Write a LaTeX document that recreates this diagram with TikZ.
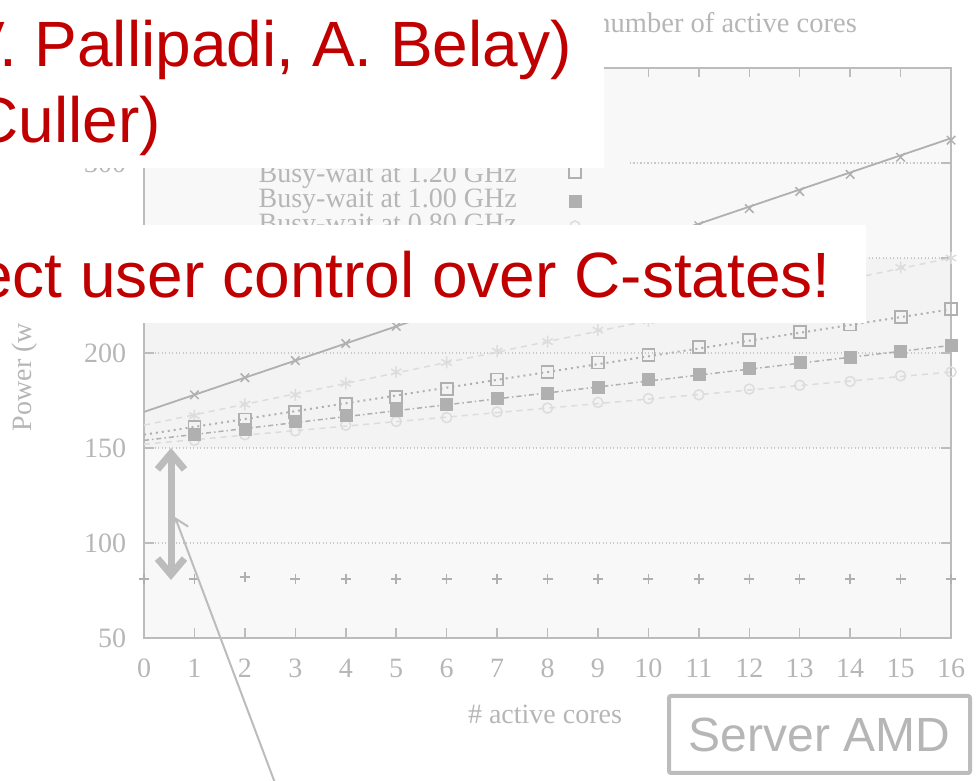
\documentclass[tikz,border=0pt]{standalone}
\usepackage{fontspec}
\setmainfont{Liberation Serif}
\newfontfamily\slidefont{Liberation Sans}
\usetikzlibrary{arrows.meta,plotmarks}

\definecolor{slidered}{RGB}{192,0,0}
\definecolor{axisgray}{RGB}{188,188,188}
\definecolor{labelgray}{RGB}{182,182,182}
\definecolor{seriesgray}{RGB}{176,176,176}
\definecolor{palegray}{RGB}{220,220,220}
\definecolor{gridgray}{RGB}{200,200,200}
\definecolor{bandgray}{RGB}{243,243,243}
\definecolor{plotbg}{RGB}{248,248,248}

\tikzset{
  lbl/.style={font=\fontsize{28}{30}\selectfont, text=labelgray, inner sep=0pt},
  redtext/.style={font=\slidefont\fontsize{64}{76}\selectfont, text=slidered, inner sep=0pt},
  gridline/.style={gridgray, line width=1.3pt, dash pattern=on 1.3pt off 2.2pt},
  frameline/.style={axisgray, line width=2.5pt},
  tickline/.style={axisgray, line width=1.5pt},
  serverbox/.style={draw=axisgray, line width=4pt, rounded corners=2pt, minimum width=301pt,
    minimum height=77pt, text=labelgray, font=\slidefont\fontsize{48}{50}\selectfont},
  gaparrow/.style={axisgray, line width=7pt, {Straight Barb[length=16pt,width=27pt]}-{Straight Barb[length=16pt,width=27pt]}},
  calloutarrow/.style={axisgray, line width=2pt, -{Straight Barb[length=12pt,width=18pt]}},
}

\begin{document}
\begin{tikzpicture}[x=1pt,y=1pt]
\useasboundingbox (0,0) rectangle (977,781);

% the chart, in cores (x) and watts (y)
\begin{scope}[x=50.44pt, y=1.9pt, shift={(144pt,48pt)}]
\fill[plotbg] (0,50) rectangle (16,350);
\fill[bandgray] (0,150) rectangle (16,250);
\draw[gridline] (0,100) -- (16,100);
\draw[gridline] (0,150) -- (16,150);
\draw[gridline] (0,200) -- (16,200);
\draw[gridline] (0,250) -- (16,250);
\draw[gridline] (9.63,300) -- (16,300);

% ticks
\draw[tickline] (1,50) -- ++(0,5) (2,50) -- ++(0,5) (3,50) -- ++(0,5) (4,50) -- ++(0,5)
  (5,50) -- ++(0,5) (6,50) -- ++(0,5) (7,50) -- ++(0,5) (8,50) -- ++(0,5)
  (9,50) -- ++(0,5) (10,50) -- ++(0,5) (11,50) -- ++(0,5) (12,50) -- ++(0,5)
  (13,50) -- ++(0,5) (14,50) -- ++(0,5) (15,50) -- ++(0,5);
\draw[tickline] (1,350) -- ++(0,-5) (2,350) -- ++(0,-5) (3,350) -- ++(0,-5) (4,350) -- ++(0,-5)
  (5,350) -- ++(0,-5) (6,350) -- ++(0,-5) (7,350) -- ++(0,-5) (8,350) -- ++(0,-5)
  (9,350) -- ++(0,-5) (10,350) -- ++(0,-5) (11,350) -- ++(0,-5) (12,350) -- ++(0,-5)
  (13,350) -- ++(0,-5) (14,350) -- ++(0,-5) (15,350) -- ++(0,-5);
\draw[tickline] (0,100) -- ++(0.2,0) (0,150) -- ++(0.2,0) (0,200) -- ++(0.2,0)
  (0,250) -- ++(0.2,0) (0,300) -- ++(0.2,0);
\draw[tickline] (16,100) -- ++(-0.2,0) (16,150) -- ++(-0.2,0) (16,200) -- ++(-0.2,0)
  (16,250) -- ++(-0.2,0) (16,300) -- ++(-0.2,0);
\draw[frameline] (0,50) rectangle (16,350);

% tick labels
\node[lbl, anchor=east] (y50) at (-0.35,50) {50};
\node[lbl, anchor=east] (y100) at (-0.35,100) {100};
\node[lbl, anchor=east] (y150) at (-0.35,150) {150};
\node[lbl, anchor=east] (y200) at (-0.35,200) {200};
\node[lbl, anchor=east] (y250) at (-0.35,250) {250};
\node[lbl, anchor=east] (y300) at (-0.35,300) {300};
\node[lbl] (x0) at (0,34.2) {0};
\node[lbl] (x1) at (1,34.2) {1};
\node[lbl] (x2) at (2,34.2) {2};
\node[lbl] (x3) at (3,34.2) {3};
\node[lbl] (x4) at (4,34.2) {4};
\node[lbl] (x5) at (5,34.2) {5};
\node[lbl] (x6) at (6,34.2) {6};
\node[lbl] (x7) at (7,34.2) {7};
\node[lbl] (x8) at (8,34.2) {8};
\node[lbl] (x9) at (9,34.2) {9};
\node[lbl] (x10) at (10,34.2) {10};
\node[lbl] (x11) at (11,34.2) {11};
\node[lbl] (x12) at (12,34.2) {12};
\node[lbl] (x13) at (13,34.2) {13};
\node[lbl] (x14) at (14,34.2) {14};
\node[lbl] (x15) at (15,34.2) {15};
\node[lbl] (x16) at (16,34.2) {16};

% series
\draw[palegray, line width=1.5pt, dash pattern=on 6pt off 5pt] (0,152) -- (16,190);
\draw[palegray] plot[only marks, mark=o, mark size=5pt, mark options={line width=1.5pt}] coordinates {
  (1,154) (2,157) (3,159) (4,162) (5,164) (6,166) (7,169) (8,171)
  (9,174) (10,176) (11,178) (12,181) (13,183) (14,185) (15,188) (16,190)};
\draw[palegray, line width=1.5pt, dash pattern=on 6pt off 5pt] (0,162) -- (16,250);
\draw[palegray] plot[only marks, mark=asterisk, mark size=6pt, mark options={line width=1.5pt}] coordinates {
  (1,167) (2,173) (3,178) (4,184) (5,190) (6,195) (7,201) (8,206)
  (9,212) (10,217) (11,223) (12,228) (13,234) (14,239) (15,245) (16,250)};
\draw[seriesgray, line width=1.5pt, dash pattern=on 5pt off 3pt on 1.5pt off 3pt] (0,154) -- (16,204);
\draw[seriesgray] plot[only marks, mark=square*, mark size=6pt] coordinates {
  (1,157) (2,160) (3,164) (4,167) (5,170) (6,173) (7,176) (8,179)
  (9,182) (10,186) (11,189) (12,192) (13,195) (14,198) (15,201) (16,204)};
\draw[seriesgray, line width=2pt, dash pattern=on 2pt off 4pt] (0,157) -- (16,223);
\draw[seriesgray] plot[only marks, mark=square, mark size=6pt, mark options={line width=1.8pt, fill=plotbg}] coordinates {
  (1,161) (2,165) (3,169) (4,173) (5,177) (6,181) (7,186) (8,190)
  (9,195) (10,199) (11,203) (12,207) (13,211) (14,215) (15,219) (16,223)};
\draw[seriesgray, line width=1.8pt] (0,169) -- (16,313);
\draw[seriesgray] plot[only marks, mark=x, mark size=6pt, mark options={line width=1.5pt}] coordinates {
  (1,178) (2,187) (3,196) (4,205) (5,214) (6,223) (7,231) (8,240)
  (9,249) (10,258) (11,267) (12,276) (13,285) (14,294) (15,303) (16,312)};
\draw[seriesgray] plot[only marks, mark=+, mark size=5pt, mark options={line width=1.5pt}] coordinates {
  (0,81) (1,81) (2,82) (3,81) (4,81) (5,81) (6,81) (7,81) (8,81)
  (9,81) (10,81) (11,81) (12,81) (13,81) (14,81) (15,81) (16,81)};
\end{scope}

% axis titles
\node[lbl, rotate=90] (ylabel) at (25,428) {Power (watts)};
\node[lbl] (xlabel) at (545,67) {\# active cores};
\node[lbl, anchor=base east, font=\fontsize{28.5}{30}\selectfont] (title) at (857,748) {number of active cores};

% key
\node[lbl, anchor=east] (key12) at (517,605) {Busy-wait at 1.20 GHz};
\node[lbl, anchor=east] (key10) at (517,580) {Busy-wait at 1.00 GHz};
\node[lbl, anchor=east] (key08) at (517,555) {Busy-wait at 0.80 GHz};
\draw[seriesgray] plot[only marks, mark=square, mark size=6pt, mark options={line width=1.8pt}] coordinates {(575,609)};
\draw[seriesgray] plot[only marks, mark=square*, mark size=6pt] coordinates {(575,580)};
\draw[palegray] plot[only marks, mark=o, mark size=5pt, mark options={line width=1.5pt}] coordinates {(575,555)};

% idle gap
\coordinate (gaptop) at (171,333);
\coordinate (gapbot) at (171,201);
\draw[gaparrow] (gaptop) -- (gapbot);
\coordinate (callout) at (275,-2);
\coordinate (gapmid) at (175,264);
\draw[calloutarrow] (callout) -- (gapmid);

% slide overlays
\fill[white] (-5,613) rectangle (604,786);
\node[redtext, anchor=base east] (who) at (572,714) {V. Pallipadi, A. Belay)};
\node[redtext, anchor=base east] (who2) at (161,638) {Culler)};
\fill[white] (-5,458) rectangle (866,556);
\node[redtext, anchor=base east] (claim) at (831,483) {ect user control over C-states!};
\node[serverbox] (amd) at (819.5,46.5) {Server AMD};
\end{tikzpicture}
\end{document}
